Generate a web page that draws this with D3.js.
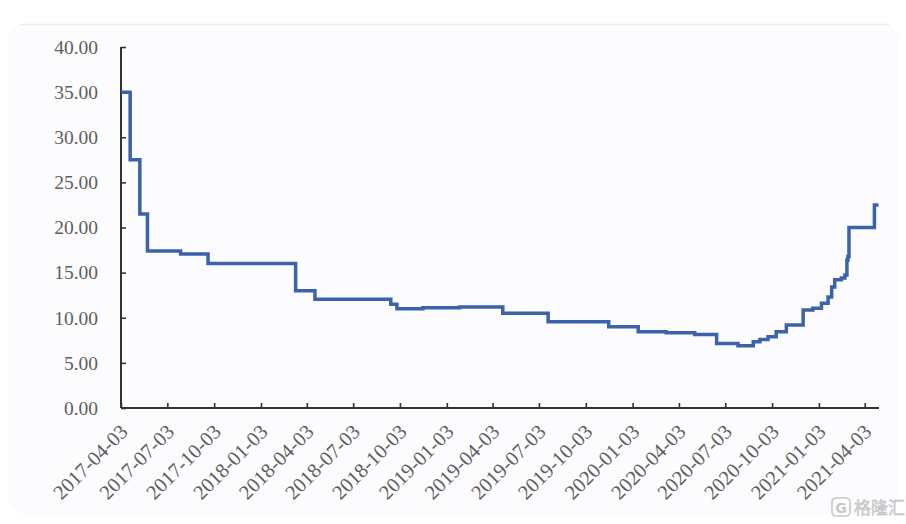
<!DOCTYPE html>
<html>
<head>
<meta charset="utf-8">
<script src="https://cdn.jsdelivr.net/npm/d3@7/dist/d3.min.js"></script>
<style>
  html, body { margin: 0; padding: 0; background: #ffffff; }
  svg { display: block; }
</style>
</head>
<body>
<svg id="chart" width="906" height="524"></svg>
<script>
// ---- data ----
const dates = [
  "2017-04-03","2017-04-21","2017-05-10","2017-05-25","2017-07-29","2017-09-21",
  "2018-03-12","2018-04-19","2018-09-15","2018-09-27","2018-11-17","2019-01-28",
  "2019-04-23","2019-07-21","2019-11-17","2020-01-14","2020-03-09","2020-05-04",
  "2020-06-16","2020-07-28","2020-08-27","2020-09-09","2020-09-25","2020-10-11",
  "2020-10-31","2020-12-03","2020-12-22","2021-01-08","2021-01-21","2021-01-28",
  "2021-02-03","2021-02-16","2021-02-23","2021-02-27","2021-03-01","2021-03-03",
  "2021-04-22","2021-04-30"
];
const values = [
  35.0, 27.5, 21.5, 17.4, 17.05, 16.0,
  13.0, 12.05, 11.5, 11.0, 11.1, 11.2,
  10.5, 9.55, 9.0, 8.45, 8.35, 8.15,
  7.15, 6.9, 7.35, 7.6, 7.9, 8.45,
  9.2, 10.85, 11.05, 11.6, 12.3, 13.4,
  14.2, 14.4, 14.75, 16.4, 16.8, 20.0,
  22.5, 22.5
];
const xTickLabels = [
  "2017-04-03","2017-07-03","2017-10-03","2018-01-03","2018-04-03","2018-07-03",
  "2018-10-03","2019-01-03","2019-04-03","2019-07-03","2019-10-03","2020-01-03",
  "2020-04-03","2020-07-03","2020-10-03","2021-01-03","2021-04-03"
];
const yTickValues = [0, 5, 10, 15, 20, 25, 30, 35, 40];
const xDomain = ["2017-04-03", "2021-05-01"];

// ---- drawing ----
const parse = d3.timeParse("%Y-%m-%d");
const svg = d3.select("#chart");

// card background
svg.append("rect")
  .attr("x", 8).attr("y", 24).attr("width", 890).attr("height", 490)
  .attr("rx", 16).attr("ry", 16)
  .attr("fill", "#fcfbfd");
svg.append("line")
  .attr("x1", 20).attr("x2", 890).attr("y1", 24.5).attr("y2", 24.5)
  .attr("stroke", "#f4ebe3").attr("stroke-width", 1.5);

const x = d3.scaleTime().domain(xDomain.map(parse)).range([121, 879]);
const y = d3.scaleLinear().domain([0, 40]).range([408, 47]);

const textColor = "#5e5e5e";
const axisColor = "#333333";
const fontFam = "'Liberation Serif', 'DejaVu Serif', serif";

// y axis
const yAxis = svg.append("g").attr("transform", `translate(${x.range()[0]},0)`)
  .call(d3.axisRight(y).tickValues(yTickValues).tickSize(5).tickFormat(""));
yAxis.select(".domain").remove();
yAxis.selectAll(".tick line").attr("stroke", axisColor).attr("stroke-width", 1.6);
svg.append("line")
  .attr("x1", x.range()[0]).attr("x2", x.range()[0])
  .attr("y1", y(40)).attr("y2", y(0))
  .attr("stroke", axisColor).attr("stroke-width", 2);
svg.append("g").selectAll("text").data(yTickValues).join("text")
  .attr("x", 98).attr("y", d => y(d))
  .attr("dy", "0.35em")
  .attr("text-anchor", "end")
  .attr("font-family", fontFam).attr("font-size", 19.5)
  .attr("fill", textColor)
  .text(d => d3.format(".2f")(d));

// x axis
const xTicks = xTickLabels.map(parse);
const xAxis = svg.append("g").attr("transform", `translate(0,${y(0)})`)
  .call(d3.axisTop(x).tickValues(xTicks).tickSize(5).tickFormat(""));
xAxis.select(".domain").remove();
xAxis.selectAll(".tick line").attr("stroke", axisColor).attr("stroke-width", 1.6);
svg.append("line")
  .attr("x1", x.range()[0]).attr("x2", x.range()[1])
  .attr("y1", y(0)).attr("y2", y(0))
  .attr("stroke", axisColor).attr("stroke-width", 2);
svg.append("g").selectAll("text").data(xTickLabels).join("text")
  .attr("transform", d => `translate(${x(parse(d)) + 3},${y(0) + 20}) rotate(-45)`)
  .attr("text-anchor", "end")
  .attr("dy", "0.35em")
  .attr("font-family", fontFam).attr("font-size", 20.5)
  .attr("fill", textColor)
  .text(d => d);

// line
const data = dates.map((d, i) => ({ date: parse(d), value: values[i] }));
const line = d3.line().x(d => x(d.date)).y(d => y(d.value)).curve(d3.curveStepAfter);
svg.append("path")
  .datum(data)
  .attr("d", line)
  .attr("fill", "none")
  .attr("stroke", "#3b63ab")
  .attr("stroke-width", 3.5)
  .attr("stroke-linejoin", "miter");

// watermark
const wm = svg.append("g").attr("transform", "translate(832,498)");
wm.append("rect").attr("x", 0).attr("y", 0).attr("width", 18).attr("height", 18)
  .attr("rx", 4).attr("fill", "none").attr("stroke", "#c8c8c8").attr("stroke-width", 1.6);
wm.append("text").attr("x", 9).attr("y", 14.5).attr("text-anchor", "middle")
  .attr("font-family", "'DejaVu Sans', sans-serif").attr("font-size", 14).attr("font-weight", "bold")
  .attr("fill", "#c8c8c8").text("G");
wm.append("text").attr("x", 22).attr("y", 16)
  .attr("font-family", "'Noto Sans CJK SC', sans-serif").attr("font-size", 17)
  .attr("fill", "#d0d0d0").attr("stroke", "#bdbdbd").attr("stroke-width", 0.4)
  .text("格隆汇");
</script>
</body>
</html>
